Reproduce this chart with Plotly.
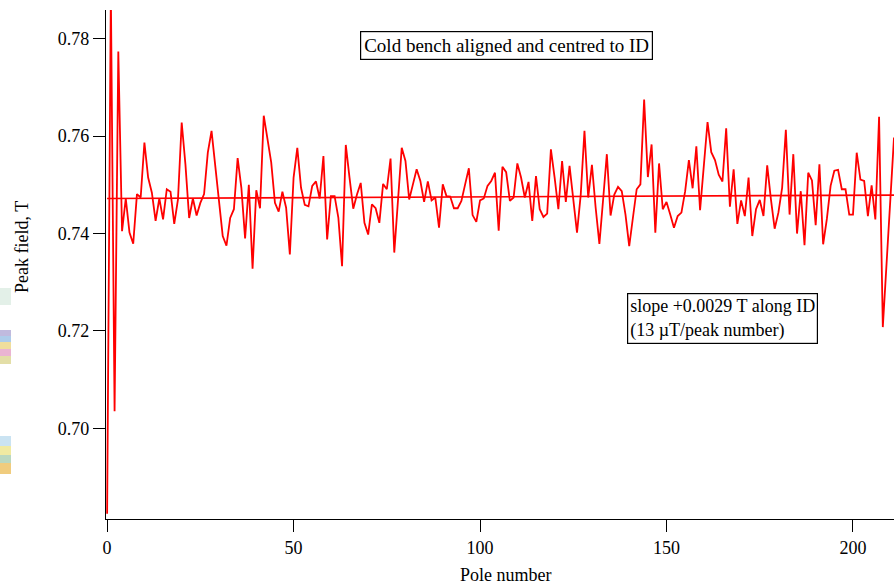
import plotly.graph_objects as go

# Peak field per pole (T), poles 0..211
peak_field = [
    0.6825, 0.7895, 0.7035, 0.7774, 0.7405, 0.7472, 0.7402, 0.7379, 0.7481, 0.7474,
    0.7587, 0.7515, 0.7484, 0.7426, 0.7472, 0.7429, 0.7491, 0.7486, 0.7420, 0.7470,
    0.7628, 0.7542, 0.7432, 0.7472, 0.7437, 0.7463, 0.7481, 0.7566, 0.7611, 0.7535,
    0.7457, 0.7395, 0.7375, 0.7432, 0.7450, 0.7555, 0.7494, 0.7390, 0.7500, 0.7328,
    0.7489, 0.7452, 0.7642, 0.7594, 0.7546, 0.7463, 0.7445, 0.7486, 0.7453, 0.7357,
    0.7515, 0.7576, 0.7494, 0.7459, 0.7456, 0.7498, 0.7507, 0.7472, 0.7559, 0.7388,
    0.7477, 0.7477, 0.7433, 0.7333, 0.7582, 0.7515, 0.7451, 0.7480, 0.7504, 0.7422,
    0.7398, 0.7460, 0.7452, 0.7422, 0.7502, 0.7491, 0.7554, 0.7361, 0.7469, 0.7576,
    0.7549, 0.7470, 0.7501, 0.7532, 0.7508, 0.7465, 0.7507, 0.7468, 0.7474, 0.7412,
    0.7501, 0.7477, 0.7476, 0.7452, 0.7452, 0.7467, 0.7501, 0.7534, 0.7438, 0.7424,
    0.7468, 0.7472, 0.7498, 0.7508, 0.7525, 0.7406, 0.7537, 0.7526, 0.7467, 0.7474,
    0.7544, 0.7515, 0.7474, 0.7506, 0.7426, 0.7518, 0.7450, 0.7434, 0.7441, 0.7573,
    0.7515, 0.7450, 0.7549, 0.7465, 0.7539, 0.7470, 0.7402, 0.7480, 0.7611, 0.7474,
    0.7541, 0.7453, 0.7379, 0.7470, 0.7563, 0.7437, 0.7480, 0.7496, 0.7487, 0.7439,
    0.7374, 0.7433, 0.7491, 0.7501, 0.7675, 0.7516, 0.7583, 0.7402, 0.7544, 0.7450,
    0.7465, 0.7439, 0.7412, 0.7436, 0.7443, 0.7487, 0.7551, 0.7493, 0.7579, 0.7448,
    0.7535, 0.7629, 0.7567, 0.7551, 0.7521, 0.7507, 0.7616, 0.7455, 0.7532, 0.7420,
    0.7468, 0.7436, 0.7515, 0.7395, 0.7450, 0.7469, 0.7436, 0.7540, 0.7470, 0.7410,
    0.7443, 0.7494, 0.7613, 0.7439, 0.7563, 0.7400, 0.7487, 0.7376, 0.7525, 0.7509,
    0.7417, 0.7542, 0.7378, 0.7430, 0.7498, 0.7529, 0.7531, 0.7491, 0.7491, 0.7439,
    0.7439, 0.7566, 0.7511, 0.7508, 0.7436, 0.7499, 0.7429, 0.7640, 0.7208, 0.7341,
    0.7475, 0.7597,
]
pole_number = list(range(len(peak_field)))

# Linear fit drawn on the chart
fit_intercept = 0.7472
fit_slope = 0.0000033
fit_x = [0, 211]
fit_y = [fit_intercept + fit_slope * x for x in fit_x]

x_ticks = [0, 50, 100, 150, 200]
y_ticks = [0.70, 0.72, 0.74, 0.76, 0.78]

title_text = "Cold bench aligned and centred to ID"
slope_text = "slope +0.0029 T along ID<br>(13 \u00b5T/peak number)"

FONT = "Liberation Serif, Times New Roman, serif"

fig = go.Figure()
fig.add_trace(go.Scatter(x=pole_number, y=peak_field, mode="lines",
                         line=dict(color="#ff0000", width=1.8), showlegend=False,
                         cliponaxis=True))
fig.add_trace(go.Scatter(x=fit_x, y=fit_y, mode="lines",
                         line=dict(color="#ff0000", width=1.7), showlegend=False))

L, R, T, B = 106, 0, 10, 65
W, H = 894, 584
pw, ph = W - L - R, H - T - B


def px(xp):
    return (xp - L) / pw


def py(yp):
    return (H - B - yp) / ph


fig.update_layout(
    width=W, height=H,
    margin=dict(l=L, r=R, t=T, b=B),
    paper_bgcolor="white", plot_bgcolor="white",
    font=dict(family=FONT, size=18, color="black"),
    xaxis=dict(range=[-0.3, 211], tickvals=x_ticks, showgrid=False, zeroline=False,
               showline=True, linecolor="black", linewidth=1.3, ticks="outside",
               ticklen=12, tickwidth=1.2, tickcolor="black",
               tickfont=dict(family=FONT, size=18)),
    yaxis=dict(range=[0.6814, 0.7859], tickvals=y_ticks, tickformat=".2f",
               showgrid=False, zeroline=False,
               showline=True, linecolor="black", linewidth=1.3, ticks="outside",
               ticklen=12, tickwidth=1.2, tickcolor="black",
               tickfont=dict(family=FONT, size=18)),
    annotations=[
        dict(text=title_text, xref="paper", yref="paper", x=px(506), y=py(45.5),
             xanchor="center", yanchor="middle", showarrow=False,
             font=dict(family=FONT, size=19), bordercolor="black", borderwidth=1.2,
             borderpad=3, bgcolor="white"),
        dict(text=slope_text, xref="paper", yref="paper", x=px(627), y=py(293),
             xanchor="left", yanchor="top", align="left", showarrow=False,
             font=dict(family=FONT, size=18), bordercolor="black", borderwidth=1.2,
             borderpad=2, bgcolor="white"),
        dict(text="Peak field, T", xref="paper", yref="paper", x=px(22), y=py(247),
             xanchor="center", yanchor="middle", textangle=-90, showarrow=False,
             font=dict(family=FONT, size=18)),
        dict(text="Pole number", xref="paper", yref="paper", x=px(506), y=py(575),
             xanchor="center", yanchor="middle", showarrow=False,
             font=dict(family=FONT, size=18)),
    ],
)

# faint coloured smudges at the far left edge of the reference image
stripes = [
    (288, 305, "rgba(200,225,210,0.5)"),
    (330, 336, "rgba(150,140,200,0.6)"),
    (336, 342, "rgba(120,170,220,0.6)"),
    (342, 349, "rgba(230,200,90,0.6)"),
    (349, 356, "rgba(220,130,180,0.6)"),
    (356, 364, "rgba(200,190,80,0.5)"),
    (436, 446, "rgba(150,200,230,0.5)"),
    (446, 455, "rgba(230,220,100,0.6)"),
    (455, 463, "rgba(140,190,150,0.6)"),
    (463, 474, "rgba(230,170,40,0.6)"),
]
for y0, y1, c in stripes:
    fig.add_shape(type="rect", xref="paper", yref="paper", x0=px(0), x1=px(11),
                  y0=py(y1), y1=py(y0), fillcolor=c, line=dict(width=0), layer="below")

fig.write_html("out.html")
